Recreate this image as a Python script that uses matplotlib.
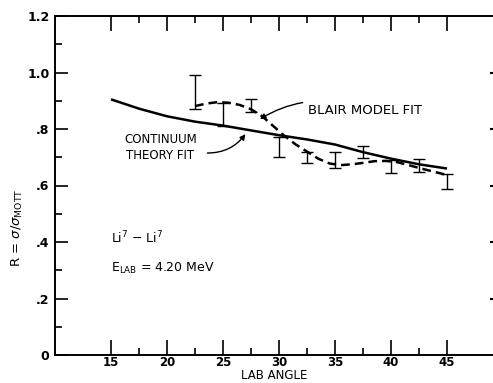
import numpy as np
import matplotlib
matplotlib.use("Agg")
import matplotlib.pyplot as plt

# measured points (lab angle, deg) with error bar limits
angles = [22.5, 25.0, 27.5, 30.0, 32.5, 35.0, 37.5, 40.0, 42.5, 45.0]
r_high = [0.991, 0.892, 0.905, 0.770, 0.719, 0.719, 0.740, 0.690, 0.694, 0.640]
r_low = [0.871, 0.811, 0.860, 0.701, 0.680, 0.662, 0.697, 0.644, 0.648, 0.588]

# continuum theory fit (solid)
cont_angle = [15, 17.5, 20, 22.5, 25, 27.5, 30, 32.5, 35, 37.5, 40, 42.5, 45]
cont_r = [0.905, 0.872, 0.845, 0.826, 0.812, 0.795, 0.778, 0.763, 0.745, 0.718, 0.695, 0.675, 0.660]

# Blair model fit (dashed)
blair_angle = [22.5, 23.5, 24.5, 25.5, 26.5, 27.5, 28.5, 29.5, 30.5, 31.5, 32.5, 33.5,
               34.5, 35.5, 36.5, 37.5, 38.5, 39.5, 40.5, 41.5, 42.5, 43.5, 44.5, 45.0]
blair_r = [0.881, 0.890, 0.895, 0.893, 0.885, 0.870, 0.845, 0.810, 0.775, 0.745, 0.720, 0.695,
           0.678, 0.672, 0.675, 0.680, 0.686, 0.687, 0.683, 0.673, 0.662, 0.652, 0.642, 0.637]

x_major = [15, 20, 25, 30, 35, 40, 45]
x_minor = [17.5, 22.5, 27.5, 32.5, 37.5, 42.5]
y_major = [0, 0.2, 0.4, 0.6, 0.8, 1.0, 1.2]
y_minor = [0.1, 0.3, 0.5, 0.7, 0.9, 1.1]
y_labels = ["0", ".2", ".4", ".6", ".8", "1.0", "1.2"]

fig = plt.figure(figsize=(4.93, 3.83), dpi=100)
ax = fig.add_axes([55 / 493, 28 / 383, 438 / 493, 339 / 383])

ang = np.array(angles)
hi = np.array(r_high)
lo = np.array(r_low)
mid = (hi + lo) / 2
ax.errorbar(ang, mid, yerr=(hi - lo) / 2, fmt="none", ecolor="black",
            elinewidth=1.0, capsize=4, capthick=1.0)
ax.plot(cont_angle, cont_r, color="black", lw=1.8, solid_capstyle="butt")
ax.plot(blair_angle, blair_r, color="black", lw=1.8, dashes=(3.5, 2))

ax.set_xlim(10, 49.1)
ax.set_ylim(0, 1.2)
ax.set_xticks(x_major)
ax.set_xticks(x_minor, minor=True)
ax.set_yticks(y_major)
ax.set_yticks(y_minor, minor=True)
ax.set_yticklabels(y_labels)

for s in ["left", "bottom", "top"]:
    ax.spines[s].set_linewidth(1.4)
ax.spines["right"].set_visible(False)

ax.tick_params(axis="x", which="major", direction="in", length=10.5, width=1.2,
               top=True, bottom=True, labelsize=8.5, pad=1)
ax.tick_params(axis="x", which="minor", direction="in", length=5, width=1.2,
               top=True, bottom=True)
ax.tick_params(axis="y", which="major", direction="in", length=9.5, width=1.2,
               left=True, right=False, labelsize=9, pad=4)
ax.tick_params(axis="y", which="minor", direction="in", length=5, width=1.2,
               left=True, right=False)
for lab in ax.get_xticklabels() + ax.get_yticklabels():
    lab.set_fontweight("bold")

sec = ax.secondary_yaxis("right")
sec.set_yticks([0.2, 0.4, 0.6, 0.8, 1.0])
sec.set_yticklabels([])
sec.tick_params(direction="in", length=2, width=1.5)
sec.spines["right"].set_visible(False)

ax.set_xlabel("LAB ANGLE", fontsize=8.5, labelpad=0)
fig.text(17 / 493, 1 - 228 / 383, r"R = $\sigma/\sigma_{\rm MOTT}$", rotation=90,
         fontsize=9.5, ha="center", va="center")

ax.text(15, 0.415, r"Li$^7$ $-$ Li$^7$", fontsize=9, va="center")
ax.text(15, 0.305, r"E$_{\rm LAB}$ = 4.20 MeV", fontsize=9, va="center")

ax.annotate("BLAIR MODEL FIT", xy=(28.3, 0.835), xytext=(32.6, 0.867),
            fontsize=9.5, ha="left", va="center",
            arrowprops=dict(arrowstyle="-|>", color="black", lw=1.0,
                            connectionstyle="arc3,rad=0.25", shrinkA=2, shrinkB=0,
                            mutation_scale=8))
ax.text(19.4, 0.735, "CONTINUUM\nTHEORY FIT", fontsize=8.5, ha="center", va="center",
        linespacing=1.3)
ax.annotate("", xy=(27.0, 0.782), xytext=(23.6, 0.715),
            arrowprops=dict(arrowstyle="-|>", color="black", lw=1.0,
                            connectionstyle="arc3,rad=0.25", shrinkA=0, shrinkB=0,
                            mutation_scale=8))

fig.savefig("out.png", dpi=100)
